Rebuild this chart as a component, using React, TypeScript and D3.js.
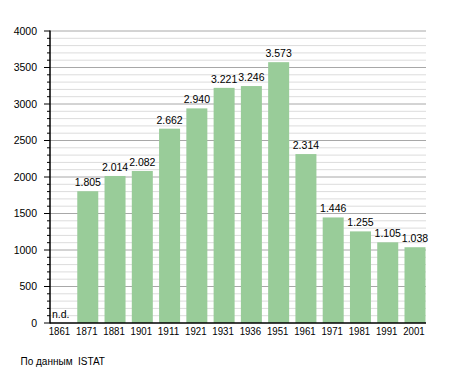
import React from "react";
import * as d3 from "d3";

const years = ["1861", "1871", "1881", "1901", "1911", "1921", "1931", "1936", "1951", "1961", "1971", "1981", "1991", "2001"];
const population: (number | null)[] = [null, 1805, 2014, 2082, 2662, 2940, 3221, 3246, 3573, 2314, 1446, 1255, 1105, 1038];
const yMajorTicks = [0, 500, 1000, 1500, 2000, 2500, 3000, 3500, 4000];
const sourceText = "По данным  ISTAT";
const missingText = "n.d.";

const W = 455;
const H = 373;
const left = 50;
const right = 425.5;
const top = 31;
const bottom = 323;

export default function App() {
  const x = d3.scaleBand<string>().domain(years).range([left, right]).paddingInner(0.23).paddingOuter(0).align(0);
  const y = d3.scaleLinear().domain([0, 4000]).range([bottom, top]);
  const minor = d3.range(0, 4001, 100).filter((v) => v % 500 !== 0);
  const fmt = (v: number) => d3.format(",")(v).replace(/,/g, ".");
  const font = "Liberation Sans, Arial, sans-serif";
  return (
    <svg width={W} height={H} style={{ position: "absolute", left: 0, top: 0, background: "#fff" }} fontFamily={font}>
      {minor.map((v) => (
        <line key={"g" + v} x1={left} x2={right + 0.5} y1={y(v)} y2={y(v)} stroke="#dcdcdc" strokeWidth={1} />
      ))}
      {yMajorTicks.filter((v) => v > 0).map((v) => (
        <line key={"G" + v} x1={left} x2={right + 0.5} y1={y(v)} y2={y(v)} stroke="#a8a8a8" strokeWidth={1} />
      ))}
      {years.map((yr, i) => {
        const v = population[i];
        if (v == null) return null;
        return (
          <rect key={"b" + yr} x={x(yr)} y={y(v)} width={x.bandwidth()} height={y(0) - y(v)} fill="#99cc99" />
        );
      })}
      {years.map((yr, i) => {
        const v = population[i];
        const cx = (x(yr) as number) + x.bandwidth() / 2;
        if (v == null)
          return (
            <text key={"l" + yr} x={(x(yr) as number) + 2} y={y(0) - 5} fontSize={10.5} fill="#000">
              {missingText}
            </text>
          );
        return (
          <text key={"l" + yr} x={cx} y={y(v) - 5} fontSize={10.5} textAnchor="middle" fill="#000">
            {fmt(v)}
          </text>
        );
      })}
      {minor.map((v) => (
        <line key={"t" + v} x1={left - 3} x2={left} y1={y(v)} y2={y(v)} stroke="#000" strokeWidth={1} />
      ))}
      {yMajorTicks.map((v) => (
        <line key={"T" + v} x1={left - 6} x2={left} y1={y(v)} y2={y(v)} stroke="#000" strokeWidth={1} />
      ))}
      {yMajorTicks.map((v) => (
        <text key={"Y" + v} x={37} y={y(v)} dy="0.35em" fontSize={10.5} textAnchor="end" fill="#000">
          {v}
        </text>
      ))}
      <line x1={left} x2={left} y1={top - 0.5} y2={bottom + 0.5} stroke="#000" strokeWidth={1.5} />
      <line x1={left} x2={right + 0.5} y1={bottom} y2={bottom} stroke="#000" strokeWidth={1.5} />
      {years.map((yr) => (
        <text
          key={"X" + yr}
          x={(x(yr) as number) + x.bandwidth() / 2 - 1}
          y={334.5}
          fontSize={11}
          textAnchor="middle"
          textLength={21.5}
          lengthAdjust="spacingAndGlyphs"
          fill="#000"
        >
          {yr}
        </text>
      ))}
      <text x={20.5} y={365} fontSize={10} fill="#000" style={{ whiteSpace: "pre" }}>
        {sourceText}
      </text>
    </svg>
  );
}
